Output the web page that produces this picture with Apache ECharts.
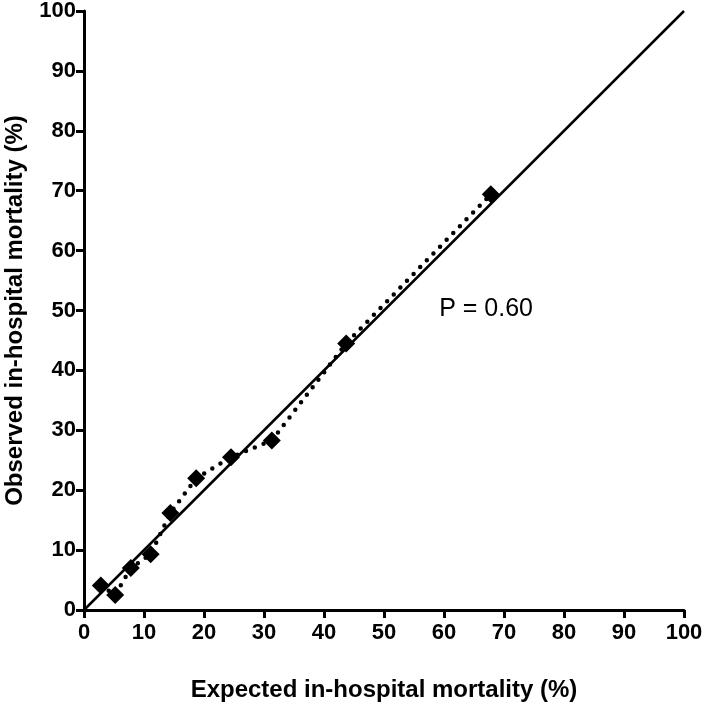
<!DOCTYPE html>
<html>
<head>
<meta charset="utf-8">
<script src="https://cdn.jsdelivr.net/npm/echarts@6/dist/echarts.min.js"></script>
<style>html,body{margin:0;padding:0;background:#fff}#c{width:704px;height:712px}</style>
</head>
<body>
<div id="c"></div>
<script>
var expected = [2.8, 5.2, 7.8, 11.1, 14.4, 18.7, 24.5, 31.3, 43.7, 67.8];
var observed = [4.1, 2.5, 7.0, 9.3, 16.2, 22.0, 25.5, 28.3, 44.5, 69.4];
var identityLine = [[0, 0], [100, 100]];
var xTicks = [0, 10, 20, 30, 40, 50, 60, 70, 80, 90, 100];
var yTicks = [0, 10, 20, 30, 40, 50, 60, 70, 80, 90, 100];
var pText = 'P = 0.60';
var pPos = [59.2, 50.2];

var pts = expected.map(function (x, i) { return [x, observed[i]]; });
var font = '"Liberation Sans", Arial, Helvetica, sans-serif';
var chart = echarts.init(document.getElementById('c'));
var axisCommon = {
  type: 'value', min: 0, max: 100, interval: 10,
  axisLine: { show: true, lineStyle: { color: '#000', width: 3 } },
  axisTick: { show: true, length: 8, lineStyle: { color: '#000', width: 3 } },
  splitLine: { show: false },
  nameLocation: 'middle',
  nameTextStyle: { color: '#000', fontFamily: font, fontWeight: 'bold', fontSize: 24 }
};
chart.setOption({
  animation: false,
  grid: { left: 84, right: 20, top: 11, bottom: 102, containLabel: false, outerBoundsMode: 'none' },
  xAxis: Object.assign({}, axisCommon, {
    name: 'Expected in-hospital mortality (%)', nameGap: 68,
    axisLabel: { color: '#000', fontFamily: font, fontWeight: 'bold', fontSize: 22, margin: 12,
      formatter: function (v) { return xTicks.indexOf(v) >= 0 ? String(v) : ''; } }
  }),
  yAxis: Object.assign({}, axisCommon, {
    name: 'Observed in-hospital mortality (%)', nameGap: 57,
    axisLabel: { color: '#000', fontFamily: font, fontWeight: 'bold', fontSize: 22, margin: 8,
      formatter: function (v) { return yTicks.indexOf(v) >= 0 ? String(v) : ''; } }
  }),
  series: [
    { type: 'line', data: identityLine, symbol: 'none', silent: true,
      lineStyle: { color: '#000', width: 2.5 }, z: 2 },
    { type: 'line', data: pts, symbol: 'none', silent: true,
      lineStyle: { color: '#000', width: 4.5, type: [0, 9.5], cap: 'round' }, z: 3 },
    { type: 'scatter', data: pts, symbol: 'diamond', symbolSize: [18, 18],
      itemStyle: { color: '#000', opacity: 1 }, z: 4 }
  ]
});
var p = chart.convertToPixel({ gridIndex: 0 }, pPos);
chart.setOption({
  graphic: [{ type: 'text', x: p[0], y: p[1],
    style: { text: pText, fill: '#000', font: '25px ' + font, textAlign: 'left', textVerticalAlign: 'middle' } }]
});
</script>
</body>
</html>
